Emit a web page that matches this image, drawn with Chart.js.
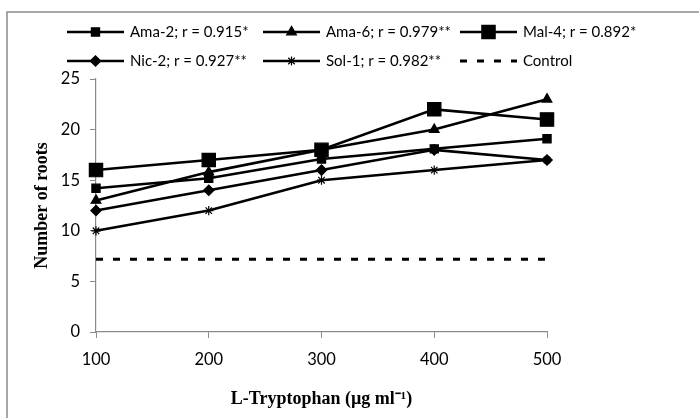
<!DOCTYPE html>
<html>
<head>
<meta charset="utf-8">
<script src="https://cdn.jsdelivr.net/npm/chart.js@4.4.1/dist/chart.umd.min.js"></script>
<style>
  html, body { margin: 0; padding: 0; background: #fff; }
  #wrap { position: relative; width: 699px; height: 418px; }
</style>
</head>
<body>
<div id="wrap"><canvas id="chart" width="699" height="418"></canvas></div>
<script>
// L-Tryptophan dose (µg/ml) on the x axis
const doses = ["100", "200", "300", "400", "500"];

// number of roots per isolate
const ama2 = [14.2, 15.2, 17.1, 18.1, 19.1];
const ama6 = [13, 15.8, 18, 20, 23];
const mal4 = [16, 17, 18, 22, 21];
const nic2 = [12, 14, 16, 18, 17];
const sol1 = [10, 12, 15, 16, 17];
const control = [7.2, 7.2, 7.2, 7.2, 7.2];

const labels = [
  "Ama-2; r = 0.915*", "Ama-6; r = 0.979**", "Mal-4; r = 0.892*",
  "Nic-2; r = 0.927**", "Sol-1; r = 0.982**", "Control"
];

const yTicks = [0, 5, 10, 15, 20, 25];

const INK = "#000";
const AXIS = "#8a8a8a";
const SANS = "Lato, 'Open Sans', sans-serif";
const SERIF = "'Liberation Serif', 'Times New Roman', serif";

function series(label, data, style, radius) {
  return {
    label, data,
    borderColor: INK, backgroundColor: INK,
    borderWidth: 2.6,
    pointStyle: style, pointRadius: radius, pointHoverRadius: radius,
    pointBackgroundColor: INK, pointBorderColor: INK, pointBorderWidth: 1.2,
    tension: 0
  };
}

const datasets = [
  series(labels[0], ama2, "rect", 5.8),
  series(labels[1], ama6, "triangle", 5.6),
  series(labels[2], mal4, "rect", 9.4),
  series(labels[3], nic2, "rectRot", 5.2),
  series(labels[4], sol1, "star", 4.6),
  Object.assign(series(labels[5], control, false, 0), { borderDash: [7, 10], borderWidth: 3 })
];

// Excel-like 3 column legend, drawn on the canvas
const gridLegend = {
  id: "gridLegend",
  afterDraw(chart) {
    const ctx = chart.ctx;
    const colX = [67, 263, 460];
    const rowY = [32, 61];
    const lineLen = 57;
    ctx.save();
    chart.data.datasets.forEach((ds, i) => {
      const x = colX[i % 3];
      const y = rowY[Math.floor(i / 3)];
      ctx.strokeStyle = ds.borderColor;
      ctx.lineWidth = ds.borderWidth;
      ctx.setLineDash(ds.borderDash || []);
      ctx.beginPath();
      ctx.moveTo(x, y);
      ctx.lineTo(x + lineLen, y);
      ctx.stroke();
      ctx.setLineDash([]);
      if (ds.pointStyle) {
        ctx.fillStyle = ds.pointBackgroundColor;
        ctx.strokeStyle = ds.pointBorderColor;
        ctx.lineWidth = ds.pointBorderWidth;
        Chart.helpers.drawPoint(ctx, {
          pointStyle: ds.pointStyle, radius: ds.pointRadius, rotation: 0,
          borderWidth: ds.pointBorderWidth
        }, x + lineLen / 2, y);
      }
      ctx.fillStyle = "#000";
      ctx.font = "15px " + SANS;
      ctx.textBaseline = "middle";
      ctx.textAlign = "left";
      ctx.fillText(ds.label, x + lineLen + 6, y);
    });
    ctx.restore();
  }
};

// grey frame, cut by the right and bottom edges like the source image
const frame = {
  id: "frame",
  beforeDraw(chart) {
    const ctx = chart.ctx;
    ctx.save();
    ctx.strokeStyle = "#8c8c8c";
    ctx.lineWidth = 1.5;
    ctx.strokeRect(7, 12, 760, 460);
    ctx.restore();
  }
};

new Chart(document.getElementById("chart"), {
  type: "line",
  data: { labels: doses, datasets },
  options: {
    responsive: false,
    animation: false,
    events: [],
    layout: { padding: { left: 8, top: 79, right: 152, bottom: 0 } },
    plugins: {
      legend: { display: false },
      tooltip: { enabled: false }
    },
    scales: {
      x: {
        type: "category",
        offset: false,
        grid: { drawOnChartArea: false, drawTicks: true, tickLength: 6, color: AXIS },
        border: { color: AXIS, width: 1.2 },
        ticks: { color: "#000", font: { family: SANS, size: 16.5 }, padding: 12, maxRotation: 0 },
        title: {
          display: true, text: "L-Tryptophan (µg ml⁻¹)", color: "#000",
          font: { family: SERIF, size: 18, weight: "bold" },
          padding: { top: 0, bottom: 8 }
        },
        afterFit(scale) { scale.height = 86; }
      },
      y: {
        min: 0, max: 25,
        afterBuildTicks(scale) { scale.ticks = yTicks.map(v => ({ value: v })); },
        grid: { drawOnChartArea: false, drawTicks: true, tickLength: 6, color: AXIS },
        border: { color: AXIS, width: 1.2 },
        ticks: { color: "#000", font: { family: SANS, size: 16.5 }, padding: 10 },
        title: {
          display: true, text: "Number of roots", color: "#000",
          font: { family: SERIF, size: 18, weight: "bold" },
          padding: { top: 24, bottom: 0 }
        },
        afterFit(scale) { scale.width = 88; }
      }
    }
  },
  plugins: [frame, gridLegend]
});
</script>
</body>
</html>
